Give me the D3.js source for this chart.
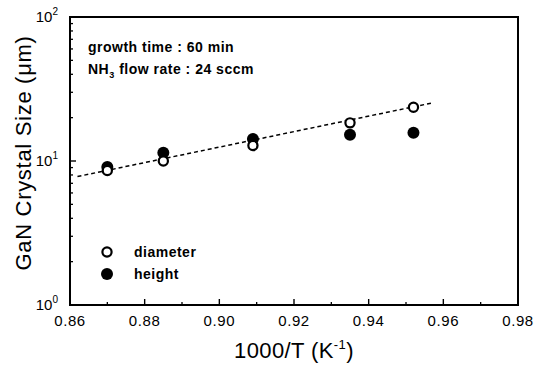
<!DOCTYPE html>
<html>
<head>
<meta charset="utf-8">
<script src="https://cdn.jsdelivr.net/npm/d3@7"></script>
<style>
  body { margin: 0; background: #fff; }
  text { font-family: "Liberation Sans", Arial, sans-serif; fill: #000; }
</style>
</head>
<body>
<div id="chart"></div>
<script>
// data
const invT = [0.87, 0.885, 0.909, 0.935, 0.952]
const diameter = [8.6, 10.0, 12.8, 18.4, 23.6]
const height = [9.1, 11.4, 14.2, 15.2, 15.7]
const fitX = [0.862, 0.957]
const fitY = [7.8, 25.3]
const xTicks = [0.86, 0.88, 0.90, 0.92, 0.94, 0.96, 0.98]
const yDecades = [0, 1, 2]

const dimensions = {
  width: 542,
  height: 365,
  margin: { top: 17, right: 24, bottom: 60, left: 70 },
}
dimensions.boundedWidth = dimensions.width - dimensions.margin.left - dimensions.margin.right
dimensions.boundedHeight = dimensions.height - dimensions.margin.top - dimensions.margin.bottom

const svg = d3.select("#chart").append("svg")
  .attr("width", dimensions.width)
  .attr("height", dimensions.height)

const bounds = svg.append("g")
  .attr("transform", `translate(${dimensions.margin.left},${dimensions.margin.top})`)

const xScale = d3.scaleLinear()
  .domain([0.86, 0.98])
  .range([0, dimensions.boundedWidth])

const yScale = d3.scaleLog()
  .domain([1, 100])
  .range([dimensions.boundedHeight, 0])

// frame
bounds.append("rect")
  .attr("width", dimensions.boundedWidth)
  .attr("height", dimensions.boundedHeight)
  .attr("fill", "none")
  .attr("stroke", "#000")
  .attr("stroke-width", 2)

// x ticks (inward), major + minor
const xMinor = d3.range(0.87, 0.98, 0.02)
bounds.selectAll(".xmaj").data(xTicks).join("line")
  .attr("x1", d => xScale(d)).attr("x2", d => xScale(d))
  .attr("y1", dimensions.boundedHeight).attr("y2", dimensions.boundedHeight - 6)
  .attr("stroke", "#000").attr("stroke-width", 1.4)
bounds.selectAll(".xmin").data(xMinor).join("line")
  .attr("x1", d => xScale(d)).attr("x2", d => xScale(d))
  .attr("y1", dimensions.boundedHeight).attr("y2", dimensions.boundedHeight - 3)
  .attr("stroke", "#000").attr("stroke-width", 1.3)

bounds.selectAll(".xlab").data(xTicks).join("text")
  .attr("x", d => xScale(d))
  .attr("y", dimensions.boundedHeight + 21)
  .attr("text-anchor", "middle")
  .style("font-size", "15px")
  .style("letter-spacing", "0.6px")
  .text(d => d.toFixed(2))

// y ticks (log), major + minor
const yMinor = []
yDecades.slice(0, -1).forEach(e => {
  for (let m = 2; m <= 9; m++) yMinor.push(m * Math.pow(10, e))
})
bounds.selectAll(".ymaj").data(yDecades).join("line")
  .attr("x1", 0).attr("x2", 6)
  .attr("y1", d => yScale(Math.pow(10, d))).attr("y2", d => yScale(Math.pow(10, d)))
  .attr("stroke", "#000").attr("stroke-width", 1.4)
bounds.selectAll(".ymin").data(yMinor).join("line")
  .attr("x1", 0).attr("x2", 3)
  .attr("y1", d => yScale(d)).attr("y2", d => yScale(d))
  .attr("stroke", "#000").attr("stroke-width", 1.3)

const yLab = bounds.selectAll(".ylab").data(yDecades).join("text")
  .attr("x", -12)
  .attr("y", d => yScale(Math.pow(10, d)) + 5)
  .attr("text-anchor", "end")
  .style("font-size", "15px")
yLab.append("tspan").text("10")
yLab.append("tspan")
  .attr("dy", -7)
  .style("font-size", "10px")
  .text(d => d)

// fitted dashed line
const line = d3.line()
  .x(d => xScale(d[0]))
  .y(d => yScale(d[1]))
bounds.append("path")
  .attr("d", line(fitX.map((x, i) => [x, fitY[i]])))
  .attr("fill", "none")
  .attr("stroke", "#000")
  .attr("stroke-width", 1.5)
  .attr("stroke-dasharray", "4 3")

// points
bounds.selectAll(".hgt").data(invT).join("circle")
  .attr("cx", d => xScale(d))
  .attr("cy", (d, i) => yScale(height[i]))
  .attr("r", 6)
  .attr("fill", "#000")
bounds.selectAll(".dia").data(invT).join("circle")
  .attr("cx", d => xScale(d))
  .attr("cy", (d, i) => yScale(diameter[i]))
  .attr("r", 4.6)
  .attr("fill", "#fff")
  .attr("stroke", "#000")
  .attr("stroke-width", 2.2)

// annotation
bounds.append("text")
  .attr("x", 18).attr("y", 35)
  .style("font-size", "14px")
  .style("font-weight", "bold")
  .style("letter-spacing", "0.5px")
  .text("growth time : 60 min")
const nh = bounds.append("text")
  .attr("x", 18).attr("y", 57)
  .style("font-size", "14px")
  .style("font-weight", "bold")
  .style("letter-spacing", "0.5px")
nh.append("tspan").text("NH")
nh.append("tspan").attr("dy", 4).style("font-size", "9px").text("3")
nh.append("tspan").attr("dy", -4).text(" flow rate : 24 sccm")

// legend
const legend = [
  { label: "diameter", y: 235, filled: false },
  { label: "height", y: 257, filled: true },
]
legend.forEach(l => {
  bounds.append("circle")
    .attr("cx", 37).attr("cy", l.y)
    .attr("r", l.filled ? 6 : 4.6)
    .attr("fill", l.filled ? "#000" : "#fff")
    .attr("stroke", "#000")
    .attr("stroke-width", l.filled ? 0 : 2.2)
  bounds.append("text")
    .attr("x", 64).attr("y", l.y + 5)
    .style("font-size", "14px")
    .style("font-weight", "bold")
    .style("letter-spacing", "0.5px")
    .text(l.label)
})

// axis titles
const xt = svg.append("text")
  .attr("x", dimensions.margin.left + dimensions.boundedWidth / 2)
  .attr("y", 358)
  .attr("text-anchor", "middle")
  .style("font-size", "22px")
  .style("letter-spacing", "0.4px")
xt.append("tspan").text("1000/T (K")
xt.append("tspan").attr("dy", -9).style("font-size", "13px").text("-1")
xt.append("tspan").attr("dy", 9).text(")")

svg.append("text")
  .attr("transform", `translate(31,${dimensions.margin.top + 136}) rotate(-90)`)
  .attr("text-anchor", "middle")
  .style("font-size", "22px")
  .style("letter-spacing", "0.7px")
  .text("GaN Crystal Size (\u03bcm)")
</script>
</body>
</html>
